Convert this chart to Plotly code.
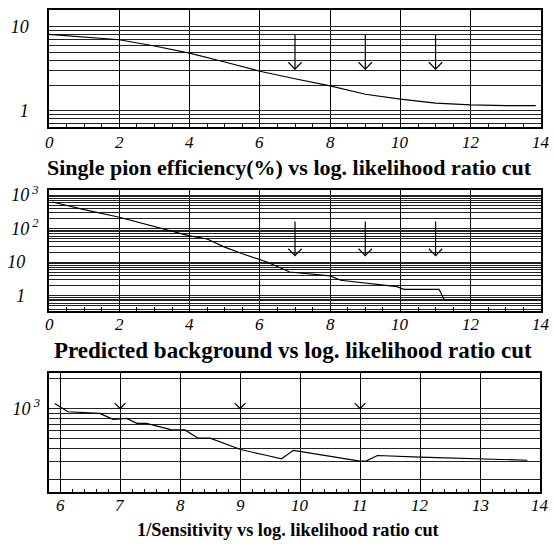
import plotly.graph_objects as go

# ---------------- data ----------------
eff_x = [0, 1, 2, 3, 4, 5, 6, 7, 8, 9, 10, 11, 12, 13, 13.85]
eff_y = [8.1, 7.55, 7.0, 5.9, 4.85, 3.8, 2.95, 2.4, 1.97, 1.57, 1.37, 1.23, 1.17, 1.15, 1.15]

bkg_x = [0.1, 1, 2, 3, 4, 4.5, 5, 5.5, 5.9, 6.2, 6.85, 8.0, 8.3, 9.0, 9.9, 10.1, 11.1, 11.25, 12, 13, 13.9]
bkg_y = [620, 367, 218, 115, 61, 49, 28, 17.8, 12.7, 10.1, 5.1, 3.9, 2.9, 2.4, 1.86, 1.55, 1.55, 0.75, 0.75, 0.75, 0.75]

sens_x = [5.91, 6.13, 6.66, 6.885, 7.11, 7.28, 7.44, 7.86, 8.08, 8.30, 8.5, 9.01, 9.45, 9.69, 9.89, 11.0, 11.1, 11.29, 12.0, 13.0, 13.79]
sens_y = [1119, 929, 894, 782, 798, 714, 714, 615, 615, 509, 509, 393, 343, 318, 386, 302, 302, 343, 330, 315, 308]

arrow_cut = [7, 9, 11]
eff_arrow_top = 8.05
eff_arrow_tip = 3.12
bkg_arrow_top = 163
bkg_arrow_tip = 15.7
sens_arrow_tip = 1000

x_ticks_a = [0, 2, 4, 6, 8, 10, 12, 14]
x_ticks_b = [6, 7, 8, 9, 10, 11, 12, 13, 14]

titles = ["Single pion efficiency(%) vs log. likelihood ratio cut",
          "Predicted background vs log. likelihood ratio cut",
          "1/Sensitivity vs log. likelihood ratio cut"]

# log grid helpers
def log_grid(decades, lo, hi):
    vals = []
    for d in decades:
        for m in range(1, 10):
            v = m * 10 ** d
            if lo <= v <= hi:
                vals.append(v)
    return vals

W, H = 554, 548
def px_x(a, b):
    return [a / W, b / W]
def px_y(top, bot):
    return [1 - bot / H, 1 - top / H]

BLACK = "#000000"
tickfont = dict(family="Liberation Serif", size=18, color=BLACK, style="italic")
xlabfont = dict(family="Liberation Serif", size=17, color=BLACK, style="italic")

fig = go.Figure()

line_style = dict(color=BLACK, width=1.2)

# curves
fig.add_trace(go.Scatter(x=eff_x, y=eff_y, mode="lines", line=line_style, xaxis="x", yaxis="y"))
fig.add_trace(go.Scatter(x=bkg_x, y=bkg_y, mode="lines", line=line_style, xaxis="x2", yaxis="y2"))
fig.add_trace(go.Scatter(x=sens_x, y=sens_y, mode="lines", line=line_style, xaxis="x3", yaxis="y3"))

# arrows
def arrows(top, tip, dx, fac, xa, ya, shaft=True):
    xs, ys = [], []
    for c in arrow_cut:
        if shaft:
            xs += [c, c, None]
            ys += [top, tip, None]
        xs += [c - dx, c, c + dx, None]
        ys += [tip * fac, tip, tip * fac, None]
    fig.add_trace(go.Scatter(x=xs, y=ys, mode="lines", line=dict(color=BLACK, width=1.2),
                             xaxis=xa, yaxis=ya))

arrows(eff_arrow_top, eff_arrow_tip, 0.19, 1.21, "x", "y")
arrows(bkg_arrow_top, bkg_arrow_tip, 0.19, 1.6, "x2", "y2")
arrows(None, sens_arrow_tip, 0.09, 1.13, "x3", "y3", shaft=False)

def it(s):
    return "<i>" + s + "</i>"

NB = "&nbsp;" * 3
# y tick setup
y1_vals = log_grid([-1, 0, 1], 0.65, 15)
y1_text = [it("1") if v == 1 else (it("10") if v == 10 else "") for v in y1_vals]
y2_vals = log_grid([-1, 0, 1, 2, 3], 0.36, 1400)
y2_map = {1: it("1") + NB, 10: it("10") + NB,
          100: it("10") + "<sup><i> 2</i></sup>", 1000: it("10") + "<sup><i> 3</i></sup>"}
y2_text = [y2_map.get(v, "") for v in y2_vals]
y3_vals = log_grid([2, 3], 150, 2200)
y3_text = [it("10") + "<sup><i> 3</i></sup>" if v == 1000 else "" for v in y3_vals]

common_x = dict(showline=True, mirror=True, linecolor=BLACK, linewidth=1.5,
                showgrid=True, gridcolor=BLACK, gridwidth=1, zeroline=False,
                ticks="inside", ticklen=4, tickcolor=BLACK, showticklabels=False,
                tickmode="array")
common_y = dict(type="log", showline=True, mirror=True, linecolor=BLACK, linewidth=1.5,
                showgrid=True, gridcolor="#222222", gridwidth=1, zeroline=False,
                ticks="", tickmode="array", tickfont=tickfont)

def minor(d):
    return dict(dtick=d, ticks="inside", ticklen=4, tickcolor=BLACK, showgrid=False)

fig.update_layout(
    width=W, height=H, margin=dict(l=0, r=0, t=0, b=0),
    paper_bgcolor="white", plot_bgcolor="white", showlegend=False,
    xaxis=dict(domain=px_x(49, 541), range=[0, 14], anchor="y",
               tickvals=x_ticks_a, minor=minor(0.5), **common_x),
    yaxis=dict(domain=px_y(3, 122), range=[-0.2, 1.2], anchor="x",
               tickvals=y1_vals, ticktext=y1_text, ticklabelstandoff=15, **common_y),
    xaxis2=dict(domain=px_x(49, 541), range=[0, 14], anchor="y2",
                tickvals=x_ticks_a, minor=minor(0.5), **common_x),
    yaxis2=dict(domain=px_y(185, 308), range=[-0.456, 3.16], anchor="x2",
                tickvals=y2_vals, ticktext=y2_text, ticklabelstandoff=5, **common_y),
    xaxis3=dict(domain=px_x(49.3, 540), range=[5.82, 14.0], anchor="y3",
                tickvals=x_ticks_b, minor=minor(0.2), **common_x),
    yaxis3=dict(domain=px_y(370.7, 491.7), range=[2.17, 3.352], anchor="x3",
                tickvals=y3_vals, ticktext=y3_text, ticklabelstandoff=4, **common_y),
)

# x tick labels (placed through each x axis' own scale)
label_rows = [("x", x_ticks_a, 137.5), ("x2", x_ticks_a, 321.5), ("x3", x_ticks_b, 505)]
for xref, vals, ypx in label_rows:
    for v in vals:
        fig.add_annotation(text=it(str(v)), x=v, xref=xref, y=1 - ypx / H, yref="paper",
                           showarrow=False, font=xlabfont, xanchor="center", yanchor="middle",
                           borderpad=0)

title_y_px = [162.5, 347.5, 530]
title_x_px = [289, 293, 288]
title_sizes = [22, 23, 18.3]
for t, xp, yp, fs in zip(titles, title_x_px, title_y_px, title_sizes):
    fig.add_annotation(text="<b>" + t + "</b>", x=xp / W, y=1 - yp / H, xref="paper", yref="paper",
                       showarrow=False, borderpad=0,
                       font=dict(family="Liberation Serif", size=fs, color=BLACK),
                       xanchor="center", yanchor="middle")

fig.write_html("out.html")
